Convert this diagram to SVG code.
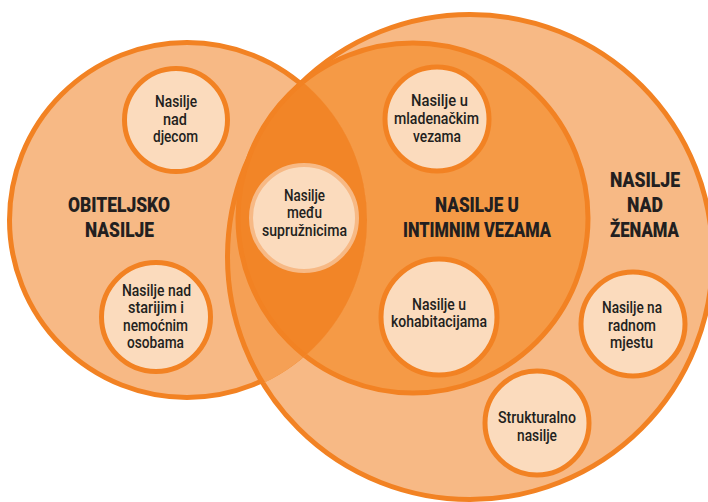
<svg xmlns="http://www.w3.org/2000/svg" width="708" height="502" viewBox="0 0 708 502">
<style>
.big{fill:#F7B985;stroke:#F28223;stroke-width:5}
.int{fill:#F59A46;stroke:#F28223;stroke-width:5}
.lft{fill:#F7B985;stroke:#F28223;stroke-width:5}
.node{fill:#FBDBBD;stroke:#F28223;stroke-width:5}
.node2{fill:#FBDBBD;stroke:#F7B985;stroke-width:4}
.lbl{font-family:Roboto,"Liberation Sans",sans-serif;font-size:17px;font-weight:500;fill:#231F20;text-anchor:middle}
.ttl{font-family:Roboto,"Liberation Sans",sans-serif;font-size:20px;font-weight:900;fill:#231F20;text-anchor:middle}
</style>
<defs>
<clipPath id="clipL"><circle cx="187" cy="220" r="180"/></clipPath>
</defs>
<g id="sets">
<circle class="big" cx="470" cy="257" r="242.5"/>
<circle class="int" cx="413" cy="218" r="175"/>
<circle class="lft" cx="187" cy="220" r="177.5"/>
<g clip-path="url(#clipL)">
<circle cx="470" cy="257" r="242.5" fill="#F5A055" stroke="#F28223" stroke-width="5"/>
<circle cx="413" cy="218" r="175" fill="#F28527" stroke="#F28223" stroke-width="5"/>
</g>
</g>
<g id="connectors"></g>
<g id="title-obiteljsko">
<text class="ttl" x="119" y="212" textLength="102" lengthAdjust="spacingAndGlyphs">OBITELJSKO</text>
<text class="ttl" x="119.5" y="237" textLength="69" lengthAdjust="spacingAndGlyphs">NASILJE</text>
</g>
<g id="title-intimne">
<text class="ttl" x="477" y="212" textLength="84" lengthAdjust="spacingAndGlyphs">NASILJE U</text>
<text class="ttl" x="477" y="237" textLength="148" lengthAdjust="spacingAndGlyphs">INTIMNIM VEZAMA</text>
</g>
<g id="title-zene">
<text class="ttl" x="645" y="187" textLength="70" lengthAdjust="spacingAndGlyphs">NASILJE</text>
<text class="ttl" x="645" y="212" textLength="36" lengthAdjust="spacingAndGlyphs">NAD</text>
<text class="ttl" x="644.5" y="237" textLength="69" lengthAdjust="spacingAndGlyphs">ŽENAMA</text>
</g>
<g id="node-djeca">
<circle class="node" cx="176" cy="120" r="51.5"/>
<text class="lbl" x="176" y="107" textLength="42" lengthAdjust="spacingAndGlyphs">Nasilje</text>
<text class="lbl" x="175" y="125" textLength="24" lengthAdjust="spacingAndGlyphs">nad</text>
<text class="lbl" x="175.5" y="142" textLength="45" lengthAdjust="spacingAndGlyphs">djecom</text>
</g>
<g id="node-stariji">
<circle class="node" cx="156" cy="317" r="54.5"/>
<text class="lbl" x="156.5" y="296" textLength="69" lengthAdjust="spacingAndGlyphs">Nasilje nad</text>
<text class="lbl" x="156" y="313" textLength="56" lengthAdjust="spacingAndGlyphs">starijim i</text>
<text class="lbl" x="155.5" y="331" textLength="65" lengthAdjust="spacingAndGlyphs">nemoćnim</text>
<text class="lbl" x="155.5" y="348" textLength="57" lengthAdjust="spacingAndGlyphs">osobama</text>
</g>
<g id="node-supruznici">
<circle class="node2" cx="304" cy="218" r="53"/>
<text class="lbl" x="304.5" y="201" textLength="41" lengthAdjust="spacingAndGlyphs">Nasilje</text>
<text class="lbl" x="304.5" y="218" textLength="35" lengthAdjust="spacingAndGlyphs">među</text>
<text class="lbl" x="304.5" y="236" textLength="85" lengthAdjust="spacingAndGlyphs">supružnicima</text>
</g>
<g id="node-mladenacke">
<circle class="node" cx="437" cy="119" r="52"/>
<text class="lbl" x="439.5" y="106" textLength="57" lengthAdjust="spacingAndGlyphs">Nasilje u</text>
<text class="lbl" x="436.5" y="124" textLength="85" lengthAdjust="spacingAndGlyphs">mladenačkim</text>
<text class="lbl" x="437" y="142" textLength="48" lengthAdjust="spacingAndGlyphs">vezama</text>
</g>
<g id="node-kohabitacije">
<circle class="node" cx="439" cy="317" r="58"/>
<text class="lbl" x="439" y="310" textLength="54" lengthAdjust="spacingAndGlyphs">Nasilje u</text>
<text class="lbl" x="439" y="327" textLength="96" lengthAdjust="spacingAndGlyphs">kohabitacijama</text>
</g>
<g id="node-radno-mjesto">
<circle class="node" cx="633" cy="324" r="52"/>
<text class="lbl" x="632" y="313" textLength="60" lengthAdjust="spacingAndGlyphs">Nasilje na</text>
<text class="lbl" x="632" y="331" textLength="48" lengthAdjust="spacingAndGlyphs">radnom</text>
<text class="lbl" x="631.5" y="348" textLength="43" lengthAdjust="spacingAndGlyphs">mjestu</text>
</g>
<g id="node-strukturalno">
<circle class="node" cx="537" cy="423" r="52"/>
<text class="lbl" x="537" y="423" textLength="78" lengthAdjust="spacingAndGlyphs">Strukturalno</text>
<text class="lbl" x="537" y="441" textLength="40" lengthAdjust="spacingAndGlyphs">nasilje</text>
</g>
</svg>
